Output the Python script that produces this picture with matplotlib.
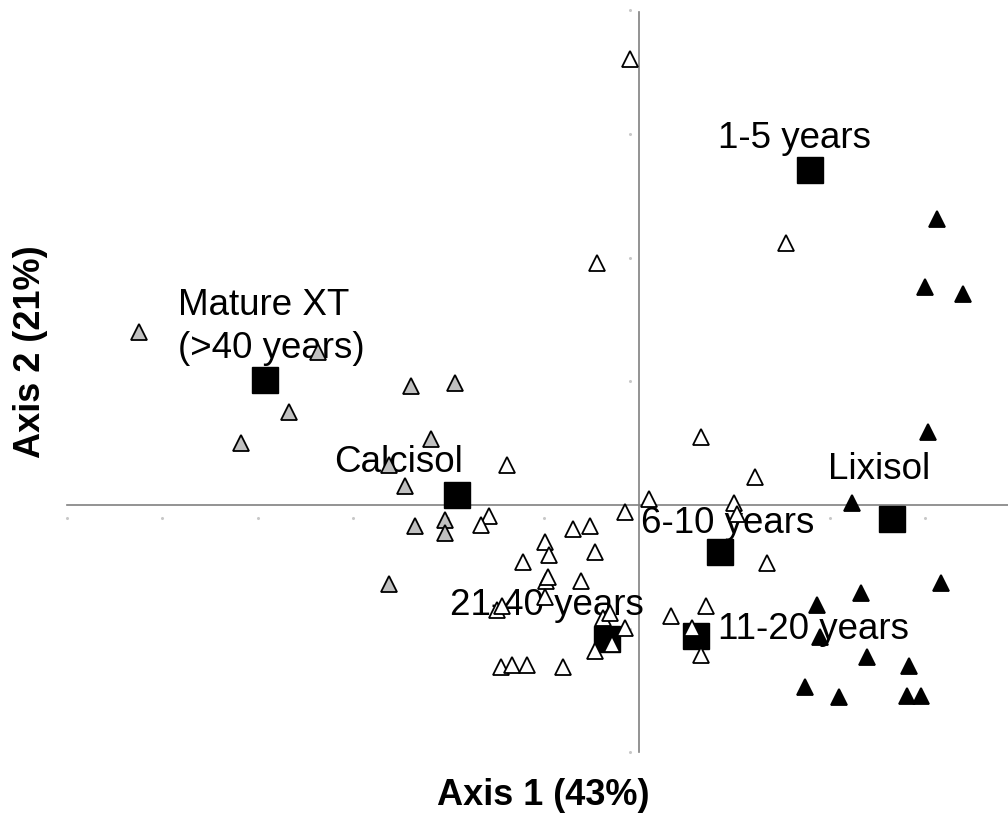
import matplotlib
matplotlib.use("Agg")
import matplotlib.pyplot as plt
import numpy as np

plt.rcParams['font.family'] = ['Liberation Sans', 'DejaVu Sans']

# Calcisol sites (grey triangles)
calc_x = [-5.25, -3.37, -2.39, -1.93, -3.67, -4.18, -2.18, -2.62, -2.46, -2.35, -2.04, -2.04, -2.62]
calc_y = [1.40, 1.24, 0.96, 0.99, 0.75, 0.50, 0.53, 0.32, 0.15, -0.17, -0.12, -0.23, -0.64]

# other sites (open triangles)
open_x = [-0.09, -0.44, 1.54, 0.65, 1.22, -1.39, 0.10, -0.15, 1.00, 1.03, -1.57, -1.66, -0.99,
          -0.94, -0.69, -0.51, -0.46, -1.22, -0.98, -0.95, -0.99, -0.61, -1.49, -1.44, -0.38,
          -0.30, -0.15, -0.28, -0.46, -1.45, -1.33, -1.18, -0.80, 0.34, 0.70, 0.56, 0.65, 1.34]
open_y = [3.61, 1.96, 2.12, 0.55, 0.23, 0.32, 0.05, -0.06, 0.02, -0.07, -0.09, -0.16, -0.30,
          -0.40, -0.19, -0.17, -0.38, -0.46, -0.61, -0.58, -0.74, -0.61, -0.85, -0.82, -0.91,
          -0.87, -0.99, -1.12, -1.18, -1.31, -1.29, -1.29, -1.31, -0.90, -0.82, -0.99, -1.21, -0.47]

# Lixisol sites (black triangles)
lix_x = [3.13, 3.00, 3.40, 3.03, 2.24, 3.17, 2.33, 1.87, 1.90, 2.39, 2.83, 1.74, 2.10, 2.81, 2.96]
lix_y = [2.31, 1.76, 1.71, 0.59, 0.02, -0.63, -0.71, -0.81, -1.07, -1.23, -1.30, -1.47, -1.55, -1.54, -1.54]

# supplementary variables (black squares)
sup_names = ['1-5 years', 'Mature XT\n(>40 years)', 'Calcisol', 'Lixisol',
             '6-10 years', '21-40 years', '11-20 years']
sup_x = [1.79, -3.92, -1.91, 2.65, 0.85, -0.34, 0.60]
sup_y = [2.71, 1.01, 0.08, -0.11, -0.38, -1.08, -1.06]
# label anchor (left, baseline of last line)
lab_x = [0.83, -4.84, -3.20, 1.98, 0.02, -1.98, 0.83]
lab_y = [2.89, 1.19, 0.27, 0.21, -0.23, -0.89, -1.08]

xticks = [-6, -5, -4, -3, -2, -1, 1, 2, 3]
yticks = [-2, -1, 1, 2, 3, 4]

fig = plt.figure(figsize=(10.08, 8.18), dpi=100)
ax = fig.add_axes([0, 0, 1, 1])
ax.set_xlim(-6.705, 3.872)
ax.set_ylim(-2.530, 4.083)
ax.axis('off')

# axes through the origin
ax.plot([-6, 3.872], [0, 0], color='#808080', lw=1.2, zorder=0)
ax.plot([0, 0], [-2, 3.99], color='#808080', lw=1.2, zorder=0)
ax.plot(xticks, [-0.105] * len(xticks), ls='none', marker='o', ms=1.2, color='#c8c8c8', zorder=0)
ax.plot([-0.094] * len(yticks), yticks, ls='none', marker='o', ms=1.2, color='#c8c8c8', zorder=0)

for name, x, y in zip(sup_names, lab_x, lab_y):
    ax.text(x, y, name, fontsize=26.5, ha='left', va='baseline', linespacing=1.3, zorder=1)

ax.plot(sup_x, sup_y, ls='none', marker='s', ms=18.5, color='black', zorder=2)
ax.plot(calc_x, calc_y, ls='none', marker='^', ms=12, mfc='#c0c0c0', mec='black', mew=1.3, zorder=3)
ax.plot(open_x, open_y, ls='none', marker='^', ms=12, mfc='white', mec='black', mew=1.3, zorder=3)
ax.plot(lix_x, lix_y, ls='none', marker='^', ms=12, mfc='black', mec='black', mew=1.3, zorder=3)

fig.text(0.539, 0.016, 'Axis 1 (43%)', fontsize=26, fontweight='bold', ha='center', va='baseline')
fig.text(0.030, 0.570, 'Axis 2 (21%)', fontsize=26, fontweight='bold', ha='center', va='center',
         rotation=90)

fig.savefig('out.png', dpi=100)
